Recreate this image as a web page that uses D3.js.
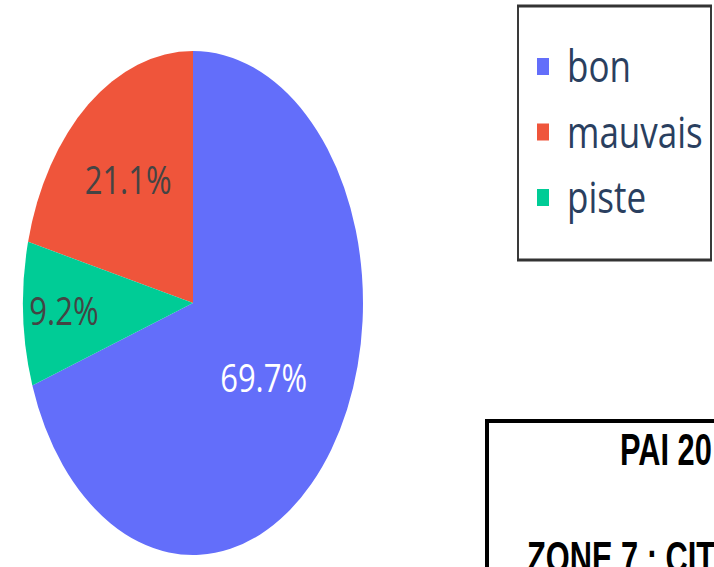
<!DOCTYPE html>
<html lang="fr">
<head>
    <meta charset="UTF-8">
    <title>Etat des routes</title>
    <script type="text/javascript" src="https://cdn.jsdelivr.net/npm/d3@7/dist/d3.min.js"></script>
    <style>
        html, body { margin: 0; padding: 0; background: #fff; }
    </style>
</head>
<body>
<script type="text/javascript">
    const width = 714, height = 567;

    // données
    const labels = ['bon', 'mauvais', 'piste'];
    const values = [69.7, 21.1, 9.2];
    const colors = ['#636efa', '#ef553b', '#00cc96'];
    const sliceOrder = ['bon', 'piste', 'mauvais'];   // sens horaire depuis midi
    const boxLines = ['PAI 20', 'ZONE 7 : CIT'];

    const data = labels.map((l, i) => ({label: l, value: values[i], color: colors[i]}));

    // mise en page
    const cx = 193, cy = 303, rx = 170, ry = 252;
    const labelRadius = {bon: 0.51, mauvais: 0.62, piste: 0.76};
    const darkText = '#2a3f5f';

    const svg = d3.select('body').append('svg')
        .attr('width', width)
        .attr('height', height)
        .style('display', 'block');

    svg.append('rect')
        .attr('width', width)
        .attr('height', height)
        .attr('fill', '#fff');

    let pie = d3.pie()
        .value(d => d.value)
        .sort((a, b) => sliceOrder.indexOf(a.label) - sliceOrder.indexOf(b.label));
    const arcs = pie(data);

    let arc = d3.arc()
        .innerRadius(0)
        .outerRadius(rx);

    // le camembert est étiré verticalement
    svg.append('g')
        .attr('transform', 'translate(' + cx + ',' + cy + ') scale(1,' + (ry / rx) + ')')
        .selectAll('path')
        .data(arcs)
        .enter()
        .append('path')
        .attr('d', arc)
        .attr('fill', d => d.data.color);

    // étiquettes de pourcentage
    svg.append('g')
        .selectAll('text')
        .data(arcs)
        .enter()
        .append('text')
        .attr('transform', function (d) {
            const a = (d.startAngle + d.endAngle) / 2;
            const r = labelRadius[d.data.label];
            const x = cx + Math.sin(a) * r * rx;
            const y = cy - Math.cos(a) * r * ry;
            return 'translate(' + x + ',' + y + ') scale(1,1.26)';
        })
        .attr('text-anchor', 'middle')
        .attr('dy', '0.36em')
        .style('font-family', '"Open Sans", sans-serif')
        .style('font-size', '31px')
        .style('fill', d => d.data.label === 'bon' ? '#ffffff' : '#444444')
        .text(d => d.data.value.toFixed(1) + '%');

    // légende
    const legend = svg.append('g');
    legend.append('rect')
        .attr('x', 518)
        .attr('y', 6)
        .attr('width', 193)
        .attr('height', 254)
        .attr('fill', '#fff')
        .attr('stroke', '#3a3a3a')
        .attr('stroke-width', 2);
    legend.append('line')
        .attr('x1', 517).attr('x2', 712)
        .attr('y1', 6).attr('y2', 6)
        .attr('stroke', '#333')
        .attr('stroke-width', 3);
    legend.append('line')
        .attr('x1', 517).attr('x2', 712)
        .attr('y1', 260).attr('y2', 260)
        .attr('stroke', '#333')
        .attr('stroke-width', 3);

    const item = legend.selectAll('g.item')
        .data(data)
        .enter()
        .append('g')
        .attr('class', 'item')
        .attr('transform', (d, i) => 'translate(0,' + (82 + i * 65.5) + ')');
    item.append('rect')
        .attr('x', 537)
        .attr('y', -24)
        .attr('width', 12)
        .attr('height', 17)
        .attr('fill', d => d.color);
    item.append('text')
        .attr('transform', 'translate(567,0) scale(1,1.23)')
        .style('font-family', '"Open Sans", sans-serif')
        .style('font-size', '35px')
        .style('fill', darkText)
        .text(d => d.label);

    // cadre du bas
    const box = svg.append('g');
    box.append('rect')
        .attr('x', 487)
        .attr('y', 421)
        .attr('width', 300)
        .attr('height', 200)
        .attr('fill', '#fff')
        .attr('stroke', '#000')
        .attr('stroke-width', 4);
    box.selectAll('text')
        .data(boxLines)
        .enter()
        .append('text')
        .attr('transform', (d, i) => i === 0
            ? 'translate(620,465) scale(0.7,1)'
            : 'translate(527,573) scale(0.7,1)')
        .style('font-family', '"Liberation Sans", Arial, sans-serif')
        .style('font-weight', 'bold')
        .style('font-size', '44px')
        .style('fill', '#000')
        .text(d => d);
</script>
</body>
</html>
